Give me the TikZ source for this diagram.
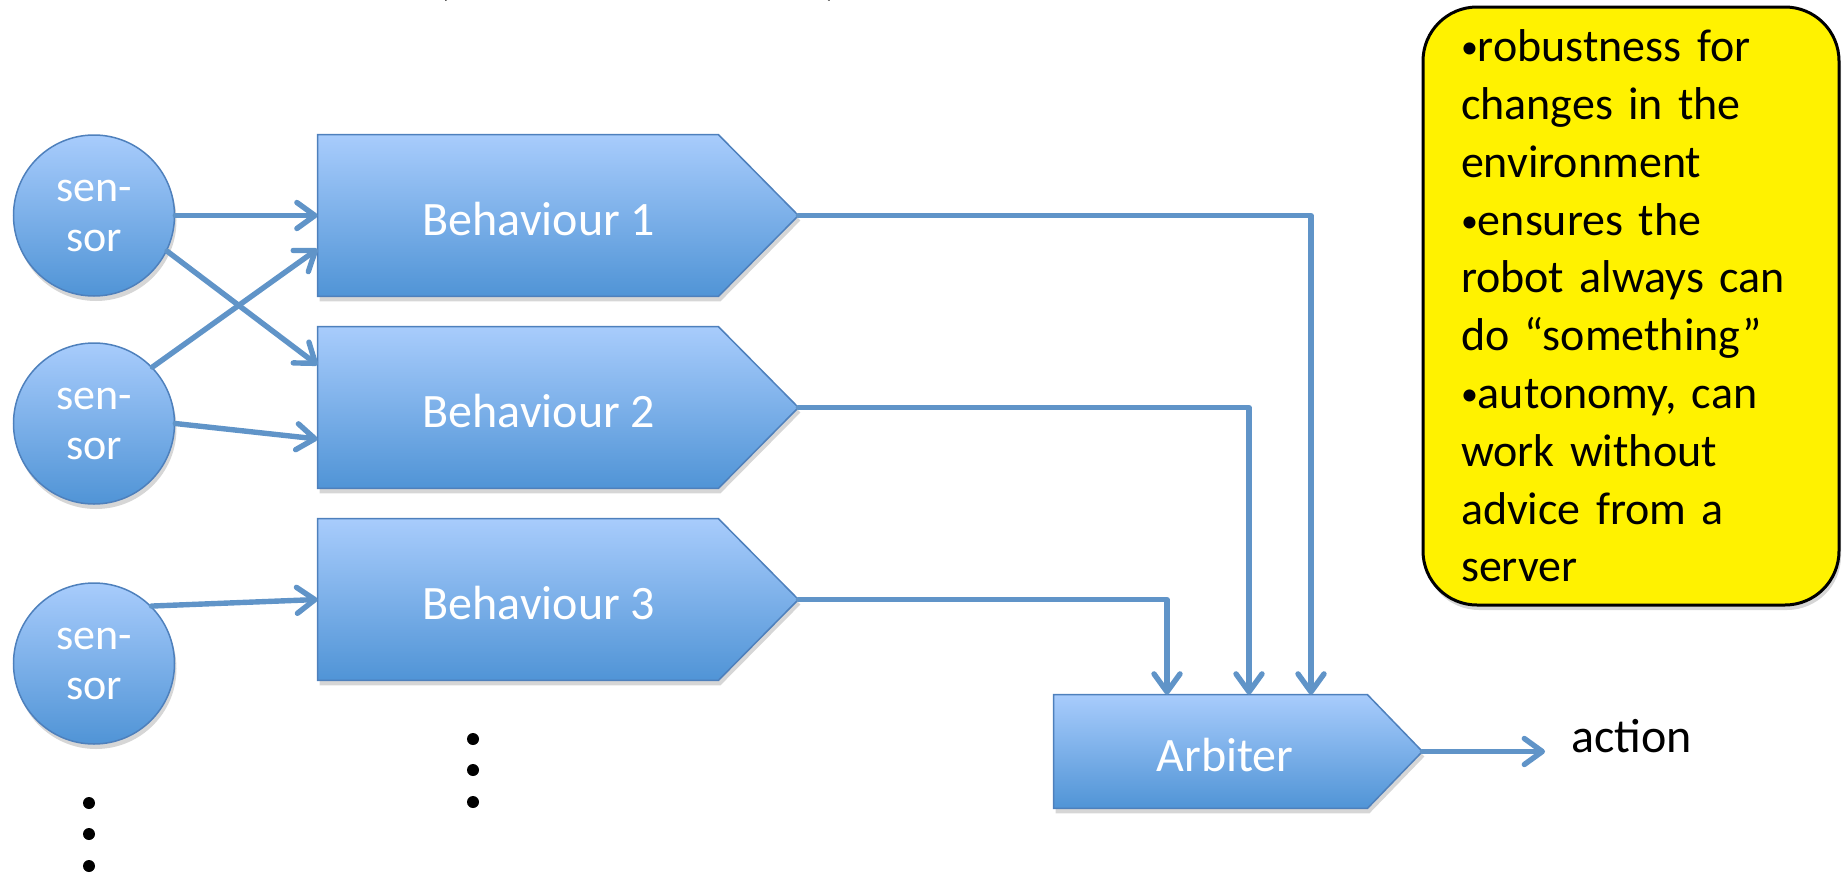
\documentclass[tikz,border=0pt]{standalone}
\usepackage{fontspec}
\setmainfont{Carlito}
\usetikzlibrary{arrows.meta,calc,backgrounds}
\definecolor{btop}{RGB}{168,204,252}
\definecolor{bbot}{RGB}{80,148,214}
\definecolor{bline}{RGB}{78,128,188}
\definecolor{conn}{RGB}{96,148,200}
\newcommand{\smbul}{\raisebox{1.5pt}{\fontsize{17}{0}\selectfont\textbullet}}
\tikzset{
  sensor/.style={circle,minimum size=80.5pt,inner sep=0pt,top color=btop,bottom color=bbot,draw=bline,line width=0.75pt,text=white,align=center,font=\fontsize{22}{25}\selectfont},
  behav/.style={rectangle,minimum width=240pt,minimum height=80.5pt,inner sep=0pt},
  arbst/.style={rectangle,minimum width=184pt,minimum height=56.5pt,inner sep=0pt},
  btext/.style={text=white,font=\fontsize{24}{28}\selectfont,inner sep=0pt},
  conn/.style={draw=conn,line width=2.7pt,line cap=round,line join=round,-{Straight Barb[length=9pt,width=13pt,round]}},
  shadowst/.style={fill=black,opacity=0.16,transform canvas={shift={(1pt,-2.5pt)}}},
  ybox/.style={rectangle,rounded corners=27pt,fill=yellow,draw=black,line width=1.5pt,minimum width=208pt,minimum height=299pt,text width=170pt,inner xsep=19pt,align=left,font=\fontsize{23}{28.9}\selectfont},
  dotst/.style={circle,fill=black,inner sep=0pt,minimum size=6pt},
}
\begin{document}
\begin{tikzpicture}[x=0.5pt,y=-0.5pt]
\useasboundingbox (0,0) rectangle (1842,873);

% cut-off title fragments
\node[anchor=base,font=\fontsize{36}{36}\selectfont,inner sep=0pt] (pl) at (442,-9) {(};
\node[anchor=base,font=\fontsize{36}{36}\selectfont,inner sep=0pt] (pr) at (833,-9) {)};

% sensors
\fill[shadowst] (94,215.5) circle (40.25pt);
\fill[shadowst] (94,423.5) circle (40.25pt);
\fill[shadowst] (94,663.5) circle (40.25pt);
\node[sensor] (s1) at (94,215.5) {sen-\\sor};
\node[sensor] (s2) at (94,423.5) {sen-\\sor};
\node[sensor] (s3) at (94,663.5) {sen-\\sor};

% behaviours
\node[behav,label={[btext,xshift=-9.5pt,yshift=-2pt]center:Behaviour 1}] (b1) at (558,215.5) {};
\node[behav,label={[btext,xshift=-9.5pt,yshift=-2pt]center:Behaviour 2}] (b2) at (558,407.5) {};
\node[behav,label={[btext,xshift=-9.5pt,yshift=-2pt]center:Behaviour 3}] (b3) at (558,599.5) {};
\node[arbst,label={[btext,xshift=-6.5pt,yshift=-2pt]center:Arbiter}] (arb) at (1238,751.5) {};

\begin{scope}[on background layer]
\foreach \n/\d in {b1/80,b2/80,b3/80,arb/55}{
  \fill[shadowst] (\n.north west) -- ($(\n.north east)+(-\d,0)$) -- (\n.east) -- ($(\n.south east)+(-\d,0)$) -- (\n.south west) -- cycle;
  \shade[top color=btop,bottom color=bbot,draw=bline,line width=0.75pt,line join=miter]
    (\n.north west) -- ($(\n.north east)+(-\d,0)$) -- (\n.east) -- ($(\n.south east)+(-\d,0)$) -- (\n.south west) -- cycle;
}
\end{scope}

% sensor -> behaviour
\draw[conn] (s1.east) -- (b1.west);
\draw[conn] (s1.-26) -- ($(b2.west)+(0,-42.5)$);
\draw[conn] (s2.44) -- ($(b1.west)+(0,33.5)$);
\draw[conn] (s2.east) -- ($(b2.west)+(0,31.5)$);
\draw[conn] (s3.45) -- (b3.west);

% behaviour -> arbiter
\draw[conn] (b1.east) -| ($(arb.north)+(73,0)$);
\draw[conn] (b2.east) -| ($(arb.north)+(11,0)$);
\draw[conn] (b3.east) -| ($(arb.north)+(-71,0)$);

% action
\node[anchor=base west,inner sep=0pt,font=\fontsize{24}{28}\selectfont] (act) at (1571,752) {action};
\coordinate (actin) at (1545,751.5);
\draw[conn] (arb.east) -- (actin);

% dots
\node[dotst] (d1) at (89,803) {};
\node[dotst] (d2) at (89,834) {};
\node[dotst] (d3) at (89,866) {};
\node[dotst] (d4) at (473,739) {};
\node[dotst] (d5) at (473,770) {};
\node[dotst] (d6) at (473,802) {};

% note box
\fill[shadowst,rounded corners=27pt] (1423,7) rectangle (1839,605);
\node[ybox] (note) at (1631,306) {\smbul robustness for\\changes in the\\environment\\\smbul ensures the\\robot always can\\do “something”\\\smbul autonomy, can\\work without\\advice from a\\server};
\end{tikzpicture}
\end{document}
